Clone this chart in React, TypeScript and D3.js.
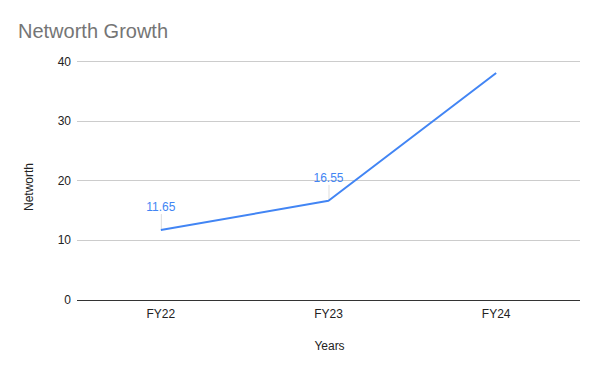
import React from "react";
import * as d3 from "d3";

const categories = ["FY22", "FY23", "FY24"];
const networth = [11.65, 16.55, 38];
const labelled = [true, true, false];
const yTicks = [0, 10, 20, 30, 40];

const W = 600;
const H = 371;
const left = 77;
const right = 580;
const top = 61;
const bottom = 299.5;
const FONT = "Arial, 'Liberation Sans', sans-serif";
const BLUE = "#4285f4";

export default function App() {
  const x = d3.scalePoint<string>().domain(categories).range([left, right]).padding(0.5);
  const y = d3.scaleLinear().domain([0, 40]).range([bottom, top]);
  const line = d3
    .line<number>()
    .x((_, i) => x(categories[i]) as number)
    .y((d) => y(d));

  return (
    <svg
      width={W}
      height={H}
      style={{ position: "absolute", left: 0, top: 0, background: "#fff" }}
      fontFamily={FONT}
    >
      <rect width={W} height={H} fill="#fff" />
      <text x={18} y={38} fontSize={20} fill="#757575">
        Networth Growth
      </text>
      {yTicks.map((t) => (
        <g key={t}>
          <line
            x1={left}
            x2={right}
            y1={Math.round(y(t)) + 0.5}
            y2={Math.round(y(t)) + 0.5}
            stroke={t === 0 ? "#333333" : "#cccccc"}
            strokeWidth={1}
          />
          <text x={71} y={y(t) + 4.5} fontSize={12} fill="#222" textAnchor="end">
            {t}
          </text>
        </g>
      ))}
      {categories.map((c) => (
        <text key={c} x={x(c)} y={318} fontSize={12} fill="#222" textAnchor="middle">
          {c}
        </text>
      ))}
      <text x={329.5} y={350} fontSize={12} fill="#222" textAnchor="middle">
        Years
      </text>
      <text
        transform={`translate(33,187) rotate(-90)`}
        fontSize={12}
        fill="#222"
        textAnchor="middle"
      >
        Networth
      </text>
      {networth.map((v, i) =>
        labelled[i] ? (
          <g key={i}>
            <line
              x1={(x(categories[i]) as number) + 0.5}
              x2={(x(categories[i]) as number) + 0.5}
              y1={y(v) - 16}
              y2={y(v) - 1}
              stroke="#dddddd"
              strokeWidth={1}
            />
            <text
              x={x(categories[i])}
              y={y(v) - 19}
              fontSize={12}
              fill={BLUE}
              textAnchor="middle"
            >
              {v.toFixed(2)}
            </text>
          </g>
        ) : null
      )}
      <path d={line(networth) || ""} fill="none" stroke={BLUE} strokeWidth={2} strokeLinejoin="round" />
    </svg>
  );
}
